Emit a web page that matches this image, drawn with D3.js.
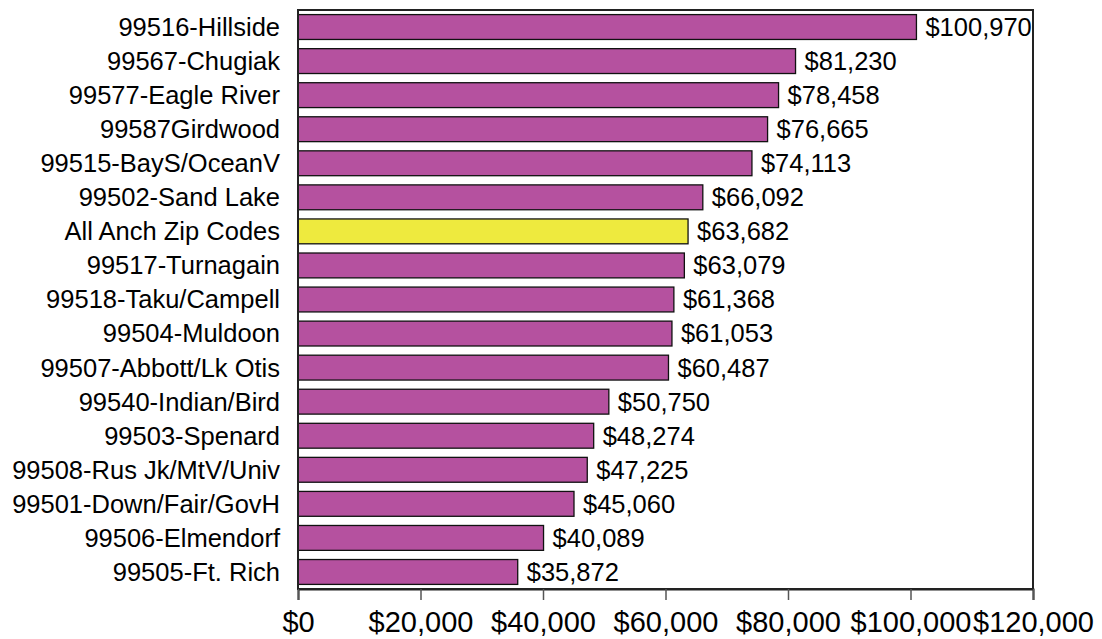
<!DOCTYPE html>
<html>
<head>
<meta charset="utf-8">
<script src="https://cdn.jsdelivr.net/npm/d3@7/dist/d3.min.js"></script>
<style>
  html, body { margin: 0; padding: 0; background: #fff; }
  svg { display: block; font-family: "Liberation Sans", Arial, sans-serif; }
</style>
</head>
<body>
<svg id="chart" width="1102" height="639"></svg>
<script>
const categories = [
  "99516-Hillside", "99567-Chugiak", "99577-Eagle River", "99587Girdwood",
  "99515-BayS/OceanV", "99502-Sand Lake", "All Anch Zip Codes", "99517-Turnagain",
  "99518-Taku/Campell", "99504-Muldoon", "99507-Abbott/Lk Otis", "99540-Indian/Bird",
  "99503-Spenard", "99508-Rus Jk/MtV/Univ", "99501-Down/Fair/GovH", "99506-Elmendorf",
  "99505-Ft. Rich"
];
const values = [
  100970, 81230, 78458, 76665, 74113, 66092, 63682, 63079,
  61368, 61053, 60487, 50750, 48274, 47225, 45060, 40089, 35872
];
const highlight = "All Anch Zip Codes";
const tickValues = [0, 20000, 40000, 60000, 80000, 100000, 120000];

const margin = { left: 298, top: 10, right: 1102 - 1033, bottom: 639 - 589 };
const width = 1102, height = 639;
const svg = d3.select("#chart");

const x = d3.scaleLinear().domain([0, 120000]).range([margin.left, width - margin.right]);
const y = d3.scaleBand().domain(categories)
  .range([margin.top, height - margin.bottom])
  .paddingInner(0.27).paddingOuter(0.135);

const fmt = v => "$" + d3.format(",")(v);
const data = categories.map((c, i) => ({ c, v: values[i] }));

// bars
svg.append("g").selectAll("rect").data(data).join("rect")
  .attr("x", x(0))
  .attr("y", d => y(d.c))
  .attr("width", d => x(d.v) - x(0))
  .attr("height", y.bandwidth())
  .attr("fill", d => d.c === highlight ? "#eeea3e" : "#b5519f")
  .attr("stroke", "#111")
  .attr("stroke-width", 1.3);

// value labels
svg.append("g").selectAll("text").data(data).join("text")
  .attr("x", d => x(d.v) + 9)
  .attr("y", d => y(d.c) + y.bandwidth() / 2)
  .attr("dy", "0.35em")
  .attr("font-size", "25.5px")
  .attr("fill", "#000")
  .text(d => fmt(d.v));

// category labels
svg.append("g").selectAll("text").data(data).join("text")
  .attr("x", x(0) - 18)
  .attr("y", d => y(d.c) + y.bandwidth() / 2)
  .attr("dy", "0.35em")
  .attr("text-anchor", "end")
  .attr("font-size", "25.5px")
  .attr("fill", "#000")
  .text(d => d.c);

// plot frame
const plotTop = margin.top, plotBottom = height - margin.bottom;
svg.append("rect")
  .attr("x", x(0)).attr("y", plotTop)
  .attr("width", x(120000) - x(0)).attr("height", plotBottom - plotTop)
  .attr("fill", "none").attr("stroke", "#222").attr("stroke-width", 2);

// x axis
const xAxis = d3.axisBottom(x).tickValues(tickValues).tickFormat(fmt).tickSize(11).tickPadding(11);
const gx = svg.append("g").attr("transform", `translate(0,${plotBottom})`).call(xAxis);
gx.select(".domain").attr("stroke", "#222").attr("stroke-width", 2);
gx.selectAll(".tick line").attr("stroke", "#555").attr("stroke-width", 1.5);
gx.selectAll(".tick text")
  .attr("font-size", "29px")
  .attr("font-family", "'Liberation Sans', Arial, sans-serif")
  .attr("fill", "#000");
</script>
</body>
</html>
